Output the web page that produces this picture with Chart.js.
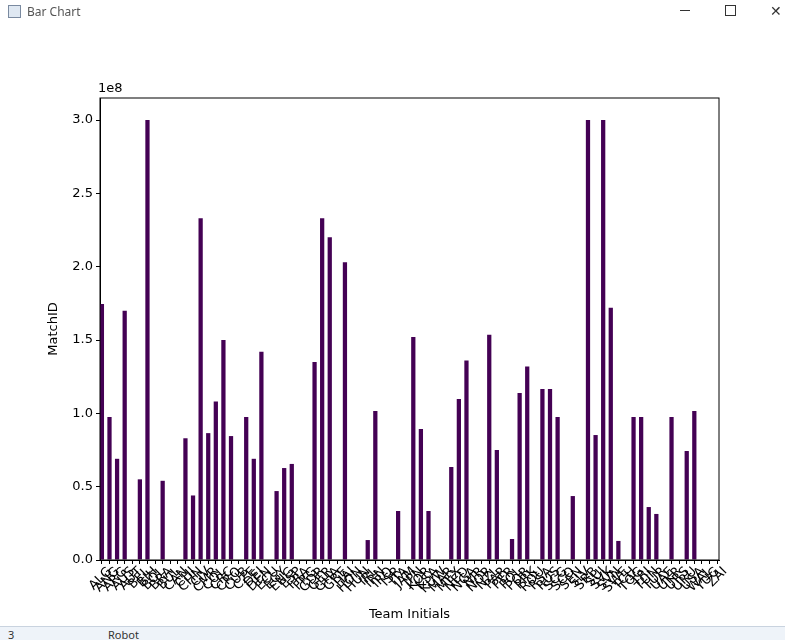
<!DOCTYPE html>
<html>
<head>
<meta charset="utf-8">
<title>Bar Chart</title>
<script src="https://cdn.jsdelivr.net/npm/chart.js@4/dist/chart.umd.min.js"></script>
<style>
  body { margin: 0; background: #fff; width: 785px; height: 640px; overflow: hidden; position: relative; font-family: "Noto Sans", "DejaVu Sans", sans-serif; }
  #bar { position: absolute; left: 0; top: 0; width: 785px; height: 22px; font-size: 12px; color: #555; }
  #bar .icon { position: absolute; left: 8px; top: 5px; width: 11px; height: 11px; border: 1px solid #7a8aa0; background: #dfe8f2; }
  #bar .name { position: absolute; left: 27px; top: 3px; }
  #bar .min { position: absolute; left: 680px; top: 10px; width: 10px; height: 1px; background: #333; }
  #bar .max { position: absolute; left: 725px; top: 5px; width: 9px; height: 9px; border: 1px solid #333; }
  #bar .close { position: absolute; left: 770px; top: 1px; font-size: 14px; color: #333; }
  #foot { position: absolute; left: 0; top: 626px; width: 785px; height: 14px; background: #eef3f9; border-top: 1px solid #c9d3df; font-size: 11px; color: #333; }
  #foot span { position: absolute; top: 0; }
  canvas { position: absolute; left: 0; top: 0; }
</style>
</head>
<body>
<canvas id="myChart" width="785" height="640"></canvas>
<div id="bar"><div class="icon"></div><div class="name">Bar Chart</div><div class="min"></div><div class="max"></div><div class="close">✕</div></div>
<div id="foot"><span style="left:8px">3</span><span style="left:108px">Robot</span></div>
<script>
const teams = ['ALG','ANG','ARG','AUS','AUT','BEL','BIH','BOL','BRA','BUL',
  'CAN','CHI','CHN','CIV','CMR','COL','CRC','CRO','CUB','CZE',
  'DEI','DEN','ECU','EGY','ENG','ESP','FRA','FRG','GDR','GER',
  'GHA','GRE','HAI','HON','HUN','IRL','IRN','IRQ','ISR','ITA',
  'JAM','JPN','KOR','KSA','KUW','MAR','MEX','NED','NGA','NIR',
  'NOR','NZL','PAR','PER','POL','POR','PRK','ROU','RSA','RUS',
  'SCG','SCO','SEN','SLV','SRB','SUI','SVK','SVN','SWE','TCH',
  'TOG','TRI','TUN','TUR','UAE','UKR','URS','URU','USA','WAL',
  'YUG','ZAI']

const matchIds = [1.745e8, 0.975e8, 0.69e8, 1.70e8, null, 0.55e8, 3.0e8, null, 0.54e8, null,
  null, 0.83e8, 0.44e8, 2.33e8, 0.865e8, 1.08e8, 1.50e8, 0.845e8, null, 0.975e8,
  0.69e8, 1.42e8, null, 0.47e8, 0.627e8, 0.655e8, null, null, 1.35e8, 2.33e8,
  2.20e8, null, 2.03e8, null, null, 0.136e8, 1.016e8, null, null, 0.334e8,
  null, 1.52e8, 0.893e8, 0.334e8, null, null, 0.634e8, 1.098e8, 1.36e8, null,
  null, 1.535e8, 0.75e8, null, 0.143e8, 1.139e8, 1.32e8, null, 1.166e8, 1.166e8,
  0.975e8, null, 0.436e8, null, 3.0e8, 0.852e8, 3.0e8, 1.72e8, 0.13e8, null,
  0.975e8, 0.975e8, 0.361e8, 0.314e8, null, 0.975e8, null, 0.743e8, 1.016e8, null,
  null, null]

const yTicks = [0, 0.5e8, 1.0e8, 1.5e8, 2.0e8, 2.5e8, 3.0e8]

const FONT = 'DejaVu Sans'

// box round the plot and the 1e8 offset text
const frame = {
  id: 'frame',
  afterDraw(chart) {
    const ctx = chart.ctx, a = chart.chartArea
    ctx.save()
    ctx.strokeStyle = '#000'
    ctx.lineWidth = 1
    ctx.strokeRect(a.left, a.top, a.right - a.left, a.bottom - a.top)
    ctx.fillStyle = '#000'
    ctx.font = '13px "' + FONT + '"'
    ctx.textBaseline = 'bottom'
    ctx.fillText('1e8', a.left - 2, a.top - 3)
    ctx.restore()
  }
}

var ctx = document.getElementById('myChart').getContext('2d')
var chart = new Chart(ctx, {
  type: 'bar',
  data: {
    datasets: [{
      label: 'MatchID',
      data: teams.map((t, i) => ({ x: i, y: matchIds[i] })),
      backgroundColor: '#440154',
      barPercentage: 0.56,
      categoryPercentage: 1.0
    }]
  },
  options: {
    responsive: false,
    animation: false,
    devicePixelRatio: 1,
    layout: { padding: { left: 42, top: 98, right: 66, bottom: 14 } },
    plugins: { legend: { display: false }, tooltip: { enabled: false } },
    scales: {
      x: {
        type: 'linear',
        offset: false,
        min: -0.25,
        max: 81.25,
        afterBuildTicks: s => { s.ticks = teams.map((t, i) => ({ value: i })) },
        afterFit: s => { s.height = 66 },
        grid: { display: true, drawOnChartArea: false, drawTicks: true, tickLength: 4, color: '#000', offset: false },
        border: { display: true, color: '#000' },
        ticks: {
          autoSkip: false,
          maxRotation: 45,
          minRotation: 45,
          padding: 0,
          labelOffset: 8,
          color: '#000',
          font: { family: FONT, size: 13 },
          callback: v => teams[v]
        },
        title: { display: true, text: 'Team Initials', color: '#000', font: { family: FONT, size: 13 } }
      },
      y: {
        min: 0,
        max: 3.15e8,
        afterBuildTicks: s => { s.ticks = yTicks.map(v => ({ value: v })) },
        afterFit: s => { s.width = 58 },
        grid: { display: true, drawOnChartArea: false, drawTicks: true, tickLength: 4, color: '#000' },
        border: { display: true, color: '#000' },
        ticks: {
          color: '#000',
          font: { family: FONT, size: 13 },
          callback: v => (v / 1e8).toFixed(1)
        },
        title: { display: true, text: 'MatchID', color: '#000', font: { family: FONT, size: 13 } }
      }
    }
  },
  plugins: [frame]
})
</script>
</body>
</html>
